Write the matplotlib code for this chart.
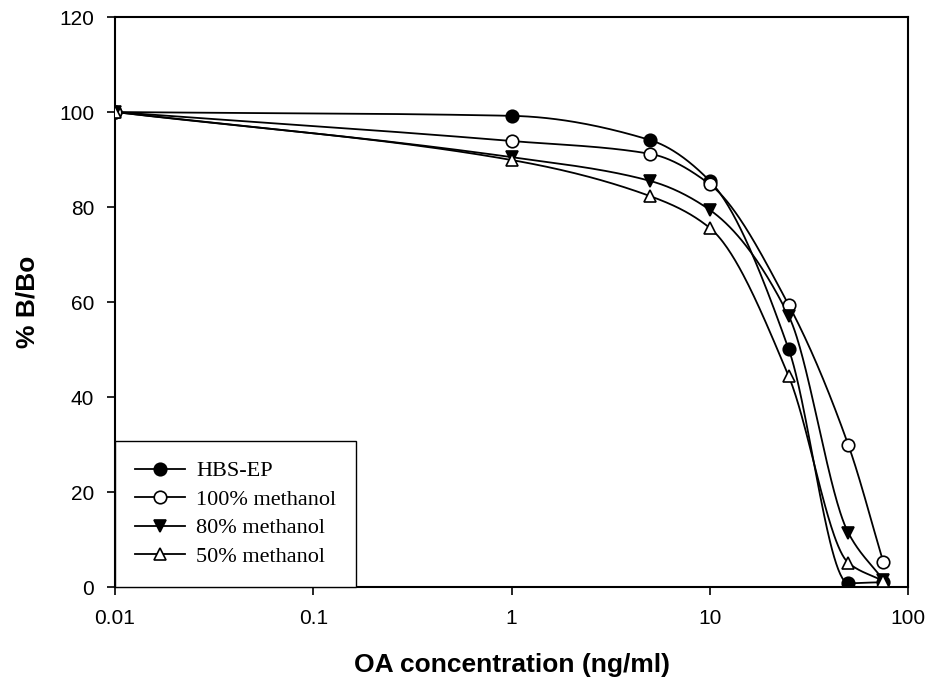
import numpy as np
import matplotlib.pyplot as plt

# OA concentration (ng/ml)
conc = [0.01, 1, 5, 10, 25, 50, 75]

# %B/Bo for each buffer
hbs_ep = [100, 99.2, 94.1, 85.5, 50.1, 0.8, 1.0]
meoh_100 = [100, 93.9, 91.2, 84.8, 59.4, 29.9, 5.3]
meoh_80 = [100, 90.5, 85.5, 79.4, 57.1, 11.4, 1.5]
meoh_50 = [100, 89.9, 82.3, 75.6, 44.4, 5.1, 1.3]

labels = ['HBS-EP', '100% methanol', '80% methanol', '50% methanol']


def smooth(x, y, n=60):
    # monotone cubic (pchip-style) curve through the points, in log-x space
    lx = np.log10(x)
    y = np.asarray(y, float)
    h = np.diff(lx)
    d = np.diff(y) / h
    m = np.zeros_like(y)
    for i in range(1, len(y) - 1):
        if d[i - 1] * d[i] > 0:
            w1 = 2 * h[i] + h[i - 1]
            w2 = h[i] + 2 * h[i - 1]
            m[i] = (w1 + w2) / (w1 / d[i - 1] + w2 / d[i])
    m[0] = d[0]
    m[-1] = d[-1] if d[-1] * d[-2] > 0 else 0
    xs, ys = [], []
    for i in range(len(y) - 1):
        t = np.linspace(0, 1, n)
        h00 = 2 * t**3 - 3 * t**2 + 1
        h10 = t**3 - 2 * t**2 + t
        h01 = -2 * t**3 + 3 * t**2
        h11 = t**3 - t**2
        ys.append(h00 * y[i] + h10 * h[i] * m[i] + h01 * y[i + 1] + h11 * h[i] * m[i + 1])
        xs.append(10 ** (lx[i] + t * h[i]))
    return np.concatenate(xs), np.concatenate(ys)


fig = plt.figure(figsize=(9.29, 6.81), dpi=100)
ax = fig.add_axes([0.1238, 0.138, 0.8536, 0.837])

series = [hbs_ep, meoh_100, meoh_80, meoh_50]
markers = ['o', 'o', 'v', '^']
faces = ['black', 'white', 'black', 'white']

for vals, mk, fc, lab in zip(series, markers, faces, labels):
    sx, sy = smooth(conc, vals)
    ax.plot(sx, sy, color='black', lw=1.3, zorder=2)
    ax.plot(conc, vals, linestyle='none', marker=mk, markersize=9,
            markerfacecolor=fc, markeredgecolor='black', markeredgewidth=1.2, zorder=3)
    ax.plot([], [], color='black', lw=1.3, marker=mk, markersize=9,
            markerfacecolor=fc, markeredgecolor='black', markeredgewidth=1.2, label=lab)

ax.set_xscale('log')
ax.set_xlim(0.01, 100)
ax.set_ylim(0, 120)
ax.set_xticks([0.01, 0.1, 1, 10, 100])
ax.set_xticklabels(['0.01', '0.1', '1', '10', '100'])
ax.set_yticks([0, 20, 40, 60, 80, 100, 120])
ax.minorticks_off()
ax.tick_params(direction='out', length=6, width=1.2, labelsize=15)
ax.tick_params(axis='x', pad=10)
ax.tick_params(axis='y', pad=9)
for lbl in ax.get_xticklabels() + ax.get_yticklabels():
    lbl.set_fontfamily('Liberation Sans')
for s in ax.spines.values():
    s.set_linewidth(1.5)

ax.set_xlabel('OA concentration (ng/ml)', fontsize=19, fontweight='bold',
              family='Liberation Sans', labelpad=18)
ax.set_ylabel('% B/Bo', fontsize=19, fontweight='bold',
              family='Liberation Sans', labelpad=14)

leg = ax.legend(loc='lower left', bbox_to_anchor=(0, 0), borderaxespad=0,
                fancybox=False, edgecolor='black', framealpha=1,
                prop={'family': 'Liberation Serif', 'size': 16},
                handlelength=2.25, borderpad=0.9, labelspacing=0.36,
                handletextpad=0.5)
leg.get_frame().set_linewidth(1.0)

plt.savefig('out.png', dpi=100)
